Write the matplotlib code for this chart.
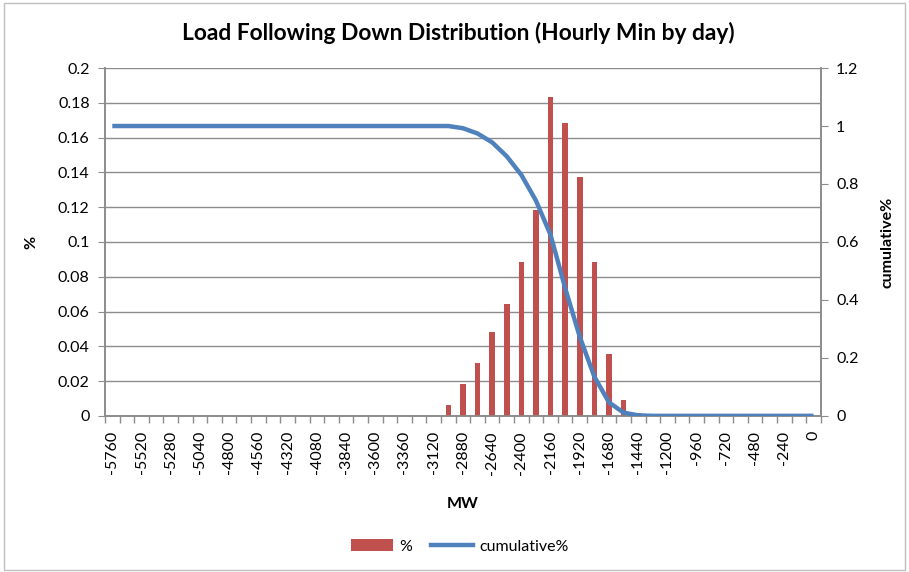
import numpy as np
import matplotlib
matplotlib.use('Agg')
import matplotlib.pyplot as plt
from matplotlib.patches import Rectangle
from matplotlib.lines import Line2D
from matplotlib.patches import Patch

plt.rcParams['font.family'] = ['Lato', 'DejaVu Sans']

# MW bins, -5760 .. 0 in steps of 120
mw_bins = list(range(-5760, 1, 120))

# share of days per bin
pct = [0.0] * 23 + [
    0.0064, 0.0183, 0.0305, 0.0481, 0.0643, 0.0886, 0.1185,
    0.1834, 0.1683, 0.1376, 0.0886, 0.0353, 0.0093, 0.0017,
] + [0.0] * 12

# cumulative share (right axis)
cum_pct = [1.0] * 24 + [
    0.9925, 0.9742, 0.9437, 0.8956, 0.8313, 0.7427, 0.6242,
    0.4408, 0.2725, 0.1349, 0.0463, 0.0110, 0.0017,
] + [0.0] * 12

BAR_RED = '#C0504D'
LINE_BLUE = '#4F81BD'
GRID = '#8C8C8C'
FS = 11.5

fig = plt.figure(figsize=(9.09, 5.72), dpi=100)
fig.patches.append(Rectangle((0.004, 0.004), 0.992, 0.990, transform=fig.transFigure,
                             fill=False, edgecolor='#BFBFBF', lw=1.0))
ax = fig.add_axes([0.1155, 0.273, 0.7875, 0.608])
ax2 = ax.twinx()

x = np.arange(len(mw_bins))
ax.bar(x, pct, width=0.38, color=BAR_RED, zorder=3)
ax2.plot(x, cum_pct, color=LINE_BLUE, lw=3.2, solid_capstyle='butt', zorder=4)

ax.set_xlim(-0.5, len(mw_bins) - 0.5)
ax.set_ylim(0, 0.2)
ax2.set_ylim(0, 1.2)
ax.set_yticks(np.arange(0, 0.201, 0.02))
ax.set_yticklabels(['0'] + [f'{v:g}' for v in np.arange(0.02, 0.201, 0.02)])
ax2.set_yticks(np.arange(0, 1.201, 0.2))
ax2.set_yticklabels(['0'] + [f'{v:g}' for v in np.arange(0.2, 1.201, 0.2)])

ax.yaxis.grid(True, color=GRID, lw=1.0)
ax.set_axisbelow(True)

# labels every other bin, tick marks on bin edges
ax.set_xticks(x[::2])
ax.set_xticklabels([str(v) for v in mw_bins[::2]], rotation=90)
ax.set_xticks(np.arange(-0.5, len(mw_bins), 1.0), minor=True)
ax.tick_params(axis='x', which='major', length=0, pad=11, labelsize=FS)
ax.tick_params(axis='x', which='minor', length=5, color=GRID, width=1)
ax.tick_params(axis='y', length=5, color=GRID, labelsize=FS, pad=6)
ax2.tick_params(axis='y', length=5, color=GRID, labelsize=FS, pad=6)

for a in (ax, ax2):
    a.spines['top'].set_visible(False)
    for s in ('left', 'right', 'bottom'):
        a.spines[s].set_color(GRID)
        a.spines[s].set_linewidth(1.2)

ax.set_xlabel('MW', fontweight='bold', fontsize=FS, labelpad=16)
ax.set_ylabel('%', fontweight='bold', fontsize=FS, labelpad=14)
ax2.set_ylabel('cumulative%', fontweight='bold', fontsize=FS, labelpad=16)

fig.text(0.504, 0.942, 'Load Following Down Distribution (Hourly Min by day)',
         ha='center', va='center', fontsize=16.4, fontweight='bold')

handles = [Patch(facecolor=BAR_RED, edgecolor='none'),
           Line2D([0], [0], color=LINE_BLUE, lw=3.2)]
fig.legend(handles, ['%', 'cumulative%'], loc='center', bbox_to_anchor=(0.506, 0.045),
           ncol=2, frameon=False, fontsize=FS, handlelength=2.6,
           handleheight=0.8, columnspacing=1.2, handletextpad=0.4)

fig.savefig('out.png', dpi=100)
